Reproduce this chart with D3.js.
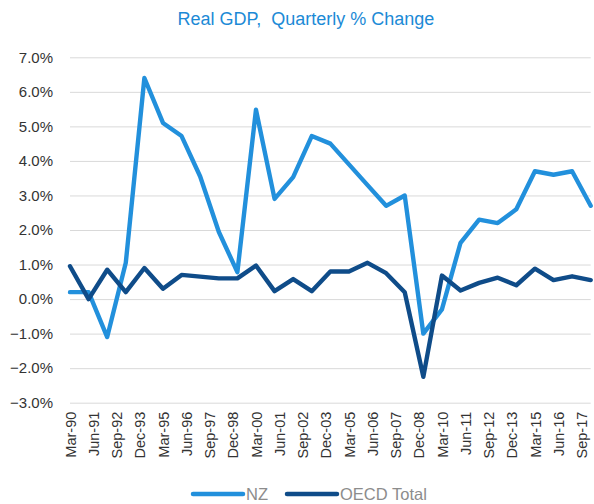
<!DOCTYPE html>
<html>
<head>
<meta charset="utf-8">
<script src="https://cdn.jsdelivr.net/npm/d3@7"></script>
<style>
  html, body { margin: 0; padding: 0; background: #fff; }
  svg { display: block; font-family: "Liberation Sans", Arial, sans-serif; }
</style>
</head>
<body>
<svg id="chart" width="594" height="504"></svg>
<script>
// Annual observations (March quarter each year), as quarterly % change
const periods = ["Mar-90","Mar-91","Mar-92","Mar-93","Mar-94","Mar-95","Mar-96","Mar-97","Mar-98","Mar-99",
                 "Mar-00","Mar-01","Mar-02","Mar-03","Mar-04","Mar-05","Mar-06","Mar-07","Mar-08","Mar-09",
                 "Mar-10","Mar-11","Mar-12","Mar-13","Mar-14","Mar-15","Mar-16","Mar-17","Mar-18"];
const nzValues = [0.2, 0.2, -1.1, 1.05, 6.4, 5.1, 4.72, 3.55, 1.95, 0.78,
                  5.48, 2.9, 3.53, 4.72, 4.5, 3.9, 3.3, 2.7, 3.0, -1.0,
                  -0.3, 1.63, 2.3, 2.2, 2.6, 3.7, 3.6, 3.7, 2.7];
const oecdValues = [0.95, 0.0, 0.85, 0.2, 0.9, 0.3, 0.7, 0.65, 0.6, 0.6,
                    0.97, 0.23, 0.58, 0.23, 0.8, 0.8, 1.05, 0.75, 0.2, -2.25,
                    0.68, 0.25, 0.47, 0.62, 0.4, 0.88, 0.55, 0.66, 0.55];
// Category axis labels, shown every fifth quarter
const tickLabels = ["Mar-90","Jun-91","Sep-92","Dec-93","Mar-95","Jun-96","Sep-97","Dec-98","Mar-00","Jun-01",
                    "Sep-02","Dec-03","Mar-05","Jun-06","Sep-07","Dec-08","Mar-10","Jun-11","Sep-12","Dec-13",
                    "Mar-15","Jun-16","Sep-17"];
const yTicks = [-3, -2, -1, 0, 1, 2, 3, 4, 5, 6, 7];

const seriesList = [
  { name: "NZ", values: nzValues, color: "#2290dc" },
  { name: "OECD Total", values: oecdValues, color: "#0f4c89" }
];

const svg = d3.select("#chart");
const plot = { left: 70, right: 590.7, top: 57.3, bottom: 402.7 };

// quarter index: 0 = Mar-90, 4 quarters per annual observation, 5 quarters per axis label
const x = d3.scaleLinear().domain([0, (periods.length - 1) * 4]).range([plot.left, plot.right]);
const y = d3.scaleLinear().domain([-3, 7]).range([plot.bottom, plot.top]);

// title
svg.append("text")
  .attr("x", 306).attr("y", 25)
  .attr("text-anchor", "middle")
  .attr("fill", "#1c8ad6")
  .style("font-size", "18px")
  .style("white-space", "pre")
  .text("Real GDP,  Quarterly % Change");

// horizontal gridlines + y labels
const yAxis = d3.axisLeft(y).tickValues(yTicks)
  .tickFormat(d => d3.format(".1f")(d) + "%")
  .tickSize(-(plot.right - plot.left)).tickPadding(17);
const gy = svg.append("g").attr("transform", `translate(${plot.left},0)`).call(yAxis);
gy.select(".domain").remove();
gy.selectAll(".tick line").attr("stroke", "#d9d9d9").attr("stroke-width", 1);
gy.selectAll(".tick text")
  .attr("fill", "#333333")
  .style("font-size", "15px")
  .style("font-family", "'Liberation Sans', Arial, sans-serif");

// category labels, rotated
const xAxis = d3.axisBottom(x).tickValues(tickLabels.map((_, i) => i * 5))
  .tickFormat((d, i) => tickLabels[i]).tickSize(0).tickPadding(0);
const gx = svg.append("g").attr("transform", `translate(0,${plot.bottom})`).call(xAxis);
gx.select(".domain").remove();
gx.selectAll(".tick text")
  .attr("fill", "#333333")
  .style("font-size", "14.5px")
  .style("font-family", "'Liberation Sans', Arial, sans-serif")
  .attr("text-anchor", "end")
  .attr("transform", "rotate(-90)")
  .attr("x", -9).attr("y", 0).attr("dy", "0.36em");

// series lines
const line = d3.line()
  .x((d, i) => x(i * 4))
  .y(d => y(d));
seriesList.forEach(s => {
  svg.append("path")
    .datum(s.values)
    .attr("fill", "none")
    .attr("stroke", s.color)
    .attr("stroke-width", 4.4)
    .attr("stroke-linejoin", "round")
    .attr("stroke-linecap", "round")
    .attr("d", line);
});

// legend
const legendItems = [
  { x: 193, series: seriesList[0] },
  { x: 287, series: seriesList[1] }
];
legendItems.forEach(item => {
  const g = svg.append("g").attr("transform", `translate(${item.x},494)`);
  g.append("line").attr("x1", 0).attr("x2", 50).attr("y1", 0).attr("y2", 0)
    .attr("stroke", item.series.color).attr("stroke-width", 4.5).attr("stroke-linecap", "round");
  g.append("text").attr("x", 53).attr("y", 6)
    .attr("fill", "#8c8c8c").style("font-size", "16.5px")
    .text(item.series.name);
});
</script>
</body>
</html>
